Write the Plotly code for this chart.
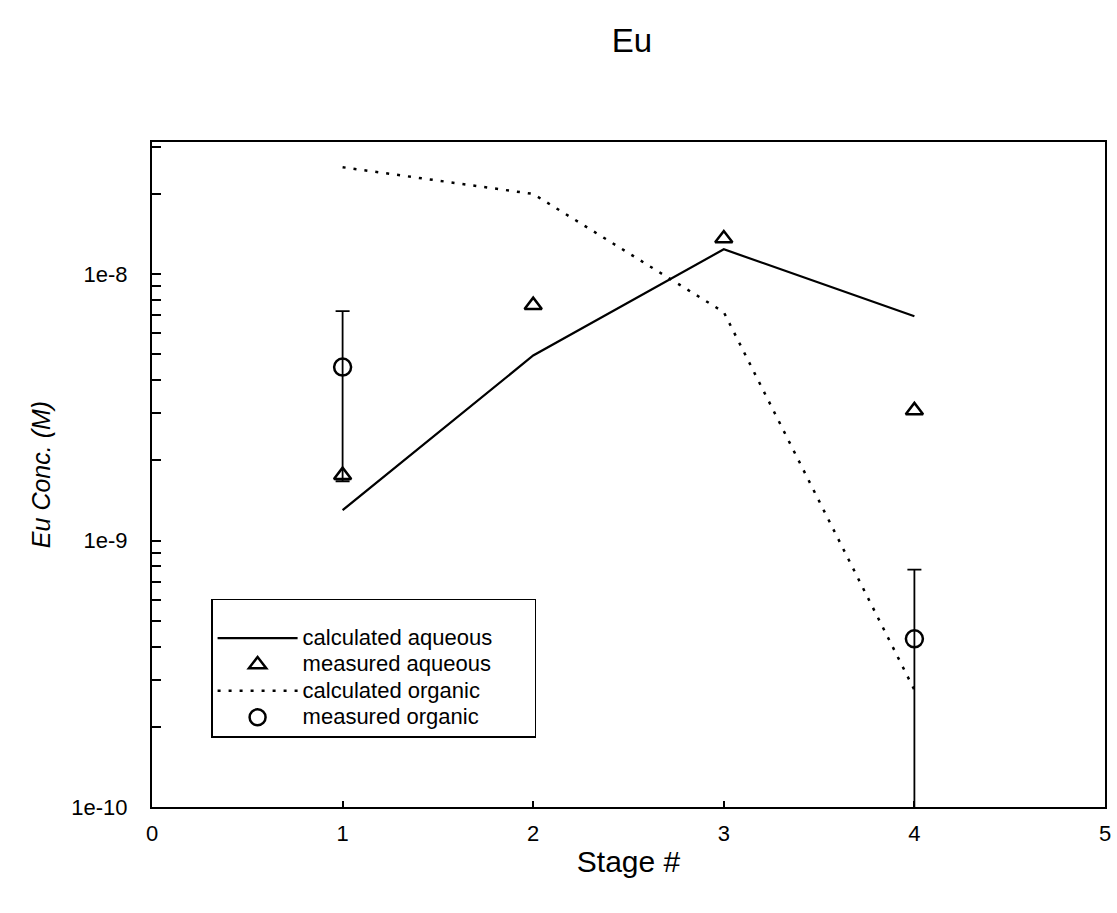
import plotly.graph_objects as go

stages = [1, 2, 3, 4]
calc_aqueous = [1.30e-9, 4.95e-9, 1.24e-8, 6.95e-9]
meas_aqueous = [1.76e-9, 7.65e-9, 1.36e-8, 3.08e-9]
calc_organic = [2.52e-8, 2.0e-8, 7.2e-9, 2.75e-10]
org_stages = [1, 4]
meas_organic = [4.48e-9, 4.28e-10]
org_err_high = [7.27e-9, 7.78e-10]
org_err_low = [1.67e-9, 1e-12]

decade_ticks = [1e-10, 1e-9, 1e-8]
decade_labels = ["1e-10", "1e-9", "1e-8"]
series_names = ["calculated aqueous", "measured aqueous",
                "calculated organic", "measured organic"]

FONT = "Arial, Liberation Sans, Helvetica, sans-serif"


def legend_name(s):
    return '<span style="font-size:22px">' + s + "&nbsp;&nbsp;&nbsp;&nbsp;&nbsp;&nbsp;</span>"


# build tick lists (decades labeled, minors unlabeled)
tickvals, ticktext = [], []
for d, lab in zip(decade_ticks, decade_labels):
    for m in range(1, 10):
        tickvals.append(d * m)
        ticktext.append(lab if m == 1 else "")

fig = go.Figure()
fig.add_trace(go.Scatter(
    x=stages, y=calc_aqueous, mode="lines", name=legend_name(series_names[0]),
    line=dict(color="black", width=2.2)))
fig.add_trace(go.Scatter(
    x=stages, y=meas_aqueous, mode="markers", name=legend_name(series_names[1]),
    marker=dict(symbol="triangle-up-open", size=15, color="black",
                line=dict(width=2.5, color="black"))))
fig.add_trace(go.Scatter(
    x=stages, y=calc_organic, mode="lines", name=legend_name(series_names[2]),
    line=dict(color="black", width=2.5, dash="3px,8px")))
fig.add_trace(go.Scatter(
    x=org_stages, y=meas_organic, mode="markers", name=legend_name(series_names[3]),
    marker=dict(symbol="circle-open", size=17, color="black",
                line=dict(width=2.5, color="black")),
    error_y=dict(type="data", symmetric=False,
                 array=[h - v for h, v in zip(org_err_high, meas_organic)],
                 arrayminus=[v - l for l, v in zip(org_err_low, meas_organic)],
                 color="black", thickness=1.8, width=7)))

fig.update_layout(
    width=1117, height=913,
    paper_bgcolor="white", plot_bgcolor="white",
    margin=dict(l=152, r=6, t=142, b=106),
    font=dict(family=FONT, color="black", size=21),
    title=dict(text="Eu", x=0.5658, xanchor="center", y=0.956, yanchor="middle",
               font=dict(size=33, family=FONT, color="black")),
    showlegend=True,
    legend=dict(x=0.062, y=0.313, xanchor="left", yanchor="top",
                bgcolor="white", bordercolor="black", borderwidth=1.5,
                font=dict(size=18, family=FONT, color="black"),
                title=dict(text="&nbsp;", font=dict(size=15)),
                tracegroupgap=0, itemwidth=80),
)
fig.update_xaxes(
    range=[0, 5], tickvals=[0, 1, 2, 3, 4, 5], ticks="inside", ticklen=6,
    tickcolor="black", tickwidth=1.5, showline=True, linecolor="black", linewidth=2,
    mirror=True, showgrid=False, zeroline=False,
    tickfont=dict(size=22, family=FONT), ticklabelstandoff=6,
    title=dict(text="Stage #", font=dict(size=30, family=FONT), standoff=6))
fig.update_yaxes(
    type="log", range=[-10, -7.504], tickvals=tickvals, ticktext=ticktext,
    ticks="inside", ticklen=9, tickcolor="black", tickwidth=1.5,
    showline=True, linecolor="black", linewidth=2, mirror=True,
    showgrid=False, zeroline=False, tickfont=dict(size=22, family=FONT),
    ticklabelstandoff=18,
    title=dict(text="<i>Eu Conc. (M)</i>", font=dict(size=25, family=FONT), standoff=14))

fig.write_html(
    "out.html",
    config={"displayModeBar": False},
    post_script="document.body.style.margin='0';document.body.style.overflow='hidden';",
)
